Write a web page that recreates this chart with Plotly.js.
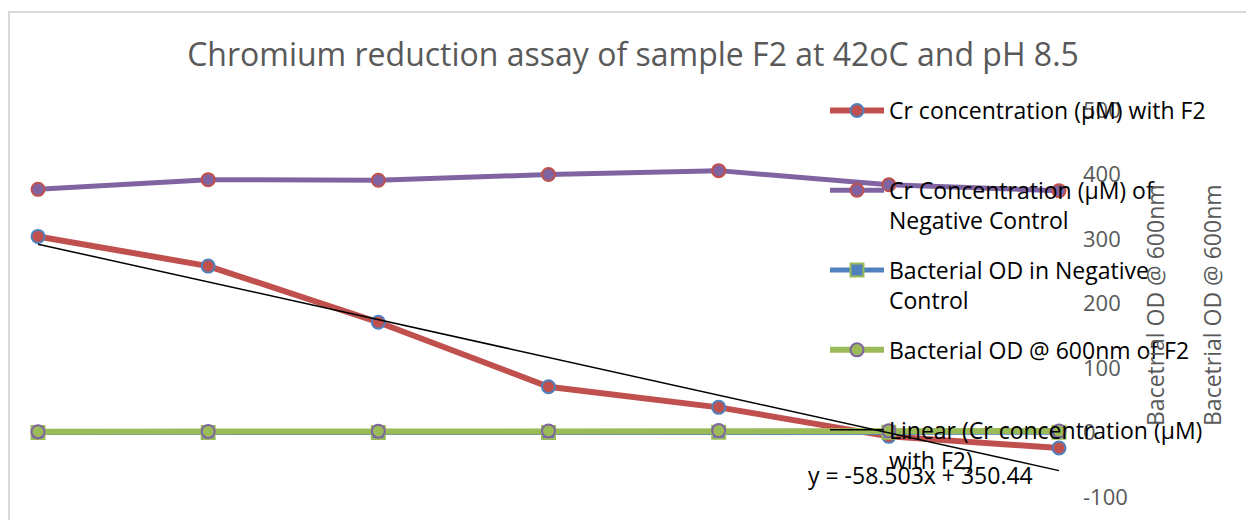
<!DOCTYPE html>
<html>
<head>
<meta charset="utf-8">
<script src="https://cdn.plot.ly/plotly-3.0.1.min.js"></script>
<style>
  html, body { margin: 0; padding: 0; background: #fff; }
  #wrap { position: relative; width: 1246px; height: 520px; overflow: hidden; }
  #chart { position: absolute; left: 0; top: 0; width: 1246px; height: 520px; }
  #frame { position: absolute; left: 8px; top: 11px; width: 1300px; height: 600px;
           border-left: 2px solid #d9d9d9; border-top: 2px solid #d9d9d9; pointer-events: none; }
</style>
</head>
<body>
<div id="wrap">
  <div id="chart"></div>
  <div id="frame"></div>
</div>
<script>
// ---- data ----
const days = [1, 2, 3, 4, 5, 6, 7];
const crWithF2 = [304, 258, 171, 71, 39, -6, -24];
const crNegControl = [377, 392, 391, 400, 406, 384, 375];
const odNegControl = [0.1, 0.12, 0.15, 0.18, 0.2, 0.2, 0.22];
const odF2 = [1.2, 1.6, 2.0, 2.4, 3.0, 2.6, 2.3];
const trendSlope = -58.503;
const trendIntercept = 350.44;
const yTicks = [-100, 0, 100, 200, 300, 400, 500];

const seriesNames = [
  'Cr concentration (µM) with F2<br>\u00a0',
  'Cr Concentration (µM) of<br>Negative Control',
  'Bacterial OD in Negative<br>Control',
  'Bacterial OD @ 600nm of F2<br>\u00a0',
  'Linear (Cr concentration (µM)<br>with F2)'
];
const titleText = 'Chromium reduction assay of sample F2 at 42oC and pH 8.5';
const axisTitle = 'Bacetrial OD @ 600nm';
const trendLabel = 'y = -58.503x + 350.44';

// ---- layout geometry ----
const W = 1246, H = 520;
const plotL = 20, plotR = 1082, plotT = 110, plotB = 497;
const firstPx = 38, lastPx = 1059;
const unit = (lastPx - firstPx) / (days[days.length - 1] - days[0]);
const xRange = [days[0] - (firstPx - plotL) / unit, days[days.length - 1] + (plotR - lastPx) / unit];

const trend = days.map(d => trendSlope * d + trendIntercept);

const FONT = 'Open Sans, Noto Sans, sans-serif';
const TXT = 23;

const traces = [
  { x: days, y: crWithF2, name: seriesNames[0], mode: 'lines+markers',
    line: { color: '#C0504D', width: 6 },
    marker: { symbol: 'circle', size: 13, color: '#C0504D', line: { color: '#4F81BD', width: 2 } },
    legendgroup: 'a' },
  { x: days, y: crNegControl, name: seriesNames[1], mode: 'lines+markers',
    line: { color: '#8064A2', width: 5 },
    marker: { symbol: 'circle', size: 13, color: '#8064A2', line: { color: '#C0504D', width: 2 } },
    legendgroup: 'b' },
  { x: days, y: odNegControl, name: seriesNames[2], mode: 'lines+markers',
    line: { color: '#4F81BD', width: 5 },
    marker: { symbol: 'square', size: 13, color: '#4F81BD', line: { color: '#9BBB59', width: 2 } },
    legendgroup: 'c' },
  { x: days, y: odF2, name: seriesNames[3], mode: 'lines+markers',
    line: { color: '#9BBB59', width: 6 },
    marker: { symbol: 'circle', size: 13, color: '#9BBB59', line: { color: '#8064A2', width: 2 } },
    legendgroup: 'd' },
  { x: days, y: trend, name: seriesNames[4], mode: 'lines',
    line: { color: '#000000', width: 1.5 },
    legendgroup: 'e' }
];

const layout = {
  width: W, height: H,
  paper_bgcolor: 'rgba(0,0,0,0)', plot_bgcolor: 'rgba(0,0,0,0)',
  margin: { l: plotL, r: W - plotR, t: plotT, b: H - plotB, pad: 0 },
  font: { family: FONT, color: '#595959' },
  title: { text: titleText, x: 633 / W, xref: 'container', xanchor: 'center',
           y: 1 - 55 / H, yref: 'container', yanchor: 'middle',
           font: { family: FONT, size: 32, color: '#595959' } },
  showlegend: true,
  legend: {
    x: (825 - plotL) / (plotR - plotL), xanchor: 'left',
    y: (plotB - 89) / (plotB - plotT), yanchor: 'top',
    bgcolor: 'rgba(0,0,0,0)', borderwidth: 0,
    font: { family: FONT, size: TXT, color: '#000000' },
    itemwidth: 54, valign: 'top', tracegroupgap: 17, traceorder: 'grouped',
    maxheight: 460
  },
  xaxis: { range: xRange, showgrid: false, zeroline: false, showline: false,
           showticklabels: false, ticks: '' },
  yaxis: { range: [yTicks[0], yTicks[yTicks.length - 1]], side: 'right',
           tickvals: yTicks, ticktext: yTicks.map(String),
           showgrid: false, zeroline: false, showline: false, ticks: '',
           tickfont: { family: FONT, size: 22, color: '#595959' } },
  annotations: [
    { text: axisTitle, xref: 'paper', yref: 'paper', textangle: -90,
      x: (1155 - plotL) / (plotR - plotL), y: (plotB - 305) / (plotB - plotT),
      xanchor: 'center', yanchor: 'middle', showarrow: false,
      font: { family: FONT, size: TXT, color: '#595959' } },
    { text: axisTitle, xref: 'paper', yref: 'paper', textangle: -90,
      x: (1212 - plotL) / (plotR - plotL), y: (plotB - 305) / (plotB - plotT),
      xanchor: 'center', yanchor: 'middle', showarrow: false,
      font: { family: FONT, size: TXT, color: '#595959' } },
    { text: trendLabel, xref: 'paper', yref: 'paper',
      x: (806 - plotL) / (plotR - plotL), y: (plotB - 475) / (plotB - plotT),
      xanchor: 'left', yanchor: 'middle', showarrow: false,
      font: { family: FONT, size: TXT, color: '#000000' } }
  ]
};

Plotly.newPlot('chart', traces, layout, { displayModeBar: false, staticPlot: true });
</script>
</body>
</html>
